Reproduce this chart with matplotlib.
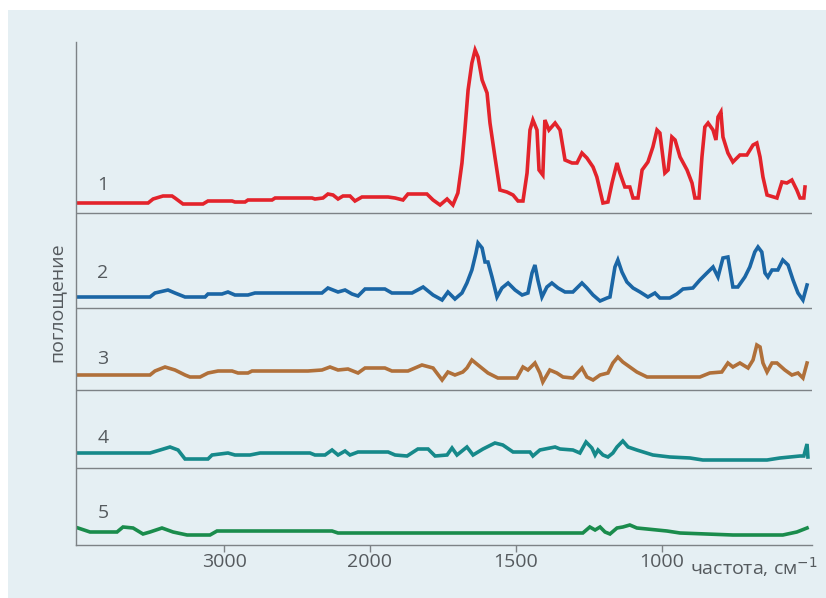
import matplotlib
import numpy as np

matplotlib.use("Agg")
import matplotlib.pyplot as plt
from matplotlib.patches import Rectangle

# wavenumbers (cm-1) and absorbance relative to each trace's own baseline (arbitrary units)
WN_1 = [4000, 3520, 3486, 3418, 3356, 3336, 3281, 3144, 3110, 2945, 2925, 2856, 2836, 2671, 2650,
        2397, 2377, 2322, 2288, 2253, 2219, 2185, 2137, 2103, 2055, 1938, 1914, 1887, 1870, 1853,
        1805, 1784, 1760, 1736, 1716, 1699, 1685, 1675, 1664, 1651, 1640, 1630, 1616, 1599, 1589,
        1572, 1555, 1531, 1510, 1493, 1476, 1462, 1452, 1442, 1428, 1421, 1408, 1401, 1387, 1366,
        1349, 1332, 1308, 1291, 1274, 1257, 1236, 1223, 1202, 1185, 1171, 1154, 1144, 1127, 1110,
        1099, 1082, 1068, 1048, 1031, 1017, 1007, 990, 979, 966, 955, 938, 914, 897, 887,
        873, 863, 853, 842, 825, 815, 808, 798, 791, 774, 757, 733, 709, 688, 675,
        664, 654, 640, 606, 589, 572, 555, 538, 527, 514, 510]
ABS_1 = [1, 1, 5, 8, 8, 6, 0, 0, 3, 3, 2, 2, 4, 4, 6,
         6, 5, 6, 10, 9, 5, 8, 8, 3, 7, 7, 6, 4, 10, 10,
         10, 4, -1, 5, -1, 11, 41, 74, 114, 141, 154, 147, 124, 111, 81,
         47, 14, 12, 9, 3, 3, 31, 74, 84, 74, 34, 29, 84, 74, 81,
         74, 44, 41, 41, 51, 46, 37, 27, 1, 2, 21, 41, 31, 17, 17,
         6, 6, 34, 42, 57, 74, 71, 31, 34, 67, 64, 47, 34, 21, 6,
         6, 47, 77, 81, 74, 64, 87, 92, 67, 51, 42, 49, 49, 59, 61,
         47, 27, 9, 6, 22, 21, 24, 14, 6, 6, 17]

WN_2 = [4000, 3507, 3473, 3384, 3336, 3267, 3130, 3110, 3014, 2973, 2925, 2836, 2788, 2329, 2288,
        2219, 2171, 2123, 2082, 2034, 1949, 1925, 1856, 1818, 1784, 1753, 1733, 1709, 1685, 1668,
        1651, 1637, 1630, 1616, 1606, 1596, 1582, 1565, 1548, 1527, 1503, 1479, 1459, 1445, 1435,
        1425, 1411, 1394, 1377, 1356, 1332, 1305, 1274, 1257, 1236, 1212, 1188, 1178, 1161, 1151,
        1137, 1120, 1099, 1075, 1048, 1024, 1007, 973, 949, 928, 894, 870, 846, 825, 808,
        791, 774, 757, 740, 716, 699, 682, 671, 658, 647, 637, 623, 603, 586, 568,
        551, 534, 517, 503]
ABS_2 = [0, 0, 4, 7, 4, 0, 0, 3, 3, 5, 2, 2, 4, 4, 9,
         5, 7, 3, 1, 8, 8, 4, 4, 10, 2, -3, 5, -2, 4, 14,
         27, 44, 54, 49, 35, 35, 20, 0, 9, 14, 7, 2, 4, 24, 32,
         17, 0, 10, 14, 9, 5, 5, 14, 9, 2, -4, -1, 0, 30, 37,
         25, 15, 9, 5, 0, 4, -1, -1, 3, 8, 9, 17, 24, 30, 20,
         39, 40, 10, 10, 20, 30, 45, 50, 45, 24, 20, 27, 27, 37, 32,
         17, 4, -3, 12]

WN_3 = [4000, 3507, 3473, 3404, 3336, 3267, 3233, 3164, 3110, 3041, 2945, 2904, 2836, 2808, 2425,
        2329, 2274, 2219, 2151, 2082, 2034, 1949, 1925, 1870, 1822, 1784, 1753, 1733, 1709, 1682,
        1668, 1651, 1630, 1596, 1562, 1497, 1476, 1459, 1435, 1418, 1408, 1384, 1360, 1339, 1305,
        1274, 1257, 1236, 1212, 1185, 1168, 1151, 1134, 1110, 1086, 1051, 870, 836, 795, 774,
        757, 733, 705, 688, 675, 664, 654, 640, 623, 606, 579, 555, 534, 517, 503]
ABS_3 = [1, 1, 5, 9, 6, 1, -1, -1, 3, 5, 5, 3, 3, 5, 5,
         6, 9, 6, 7, 3, 8, 8, 5, 5, 11, 8, -4, 4, 1, 4,
         8, 16, 11, 3, -2, -2, 9, 6, 13, 3, -6, 6, 3, -1, -2,
         8, -1, -4, 1, 3, 13, 19, 14, 9, 4, -1, -1, 3, 4, 13,
         9, 13, 8, 16, 31, 29, 13, 4, 13, 13, 6, 1, 3, -2, 13]

WN_4 = [4000, 3507, 3438, 3370, 3315, 3267, 3110, 3082, 2973, 2925, 2822, 2753, 2411, 2377, 2308,
        2260, 2219, 2171, 2137, 2082, 1938, 1914, 1873, 1836, 1801, 1777, 1736, 1719, 1702, 1668,
        1647, 1613, 1572, 1545, 1510, 1452, 1442, 1418, 1366, 1349, 1305, 1281, 1260, 1240, 1229,
        1219, 1202, 1185, 1168, 1154, 1134, 1116, 1086, 1031, 973, 904, 860, 640, 596, 527,
        514, 503, 500]
ABS_4 = [1, 1, 4, 7, 4, -5, -5, -1, 1, -1, -1, 1, 1, -1, -1,
         4, -1, 3, -1, 2, 2, -1, -2, 5, 5, -2, -1, 6, -1, 7,
         -1, 5, 11, 9, 2, 2, -2, 4, 7, 5, 4, 1, 12, 6, -1,
         4, -1, -3, 1, 7, 13, 7, 4, -1, -3, -4, -6, -6, -4, -2,
         -2, 10, -3]

WN_5 = [4000, 3918, 3733, 3692, 3623, 3555, 3507, 3425, 3349, 3253, 3096, 3048, 2260, 2219, 1271,
        1247, 1229, 1212, 1195, 1178, 1154, 1134, 1110, 1086, 1051, 1017, 983, 938, 757, 586,
        538, 503]
ABS_5 = [5, 1, 1, 6, 5, -1, 1, 5, 1, -2, -2, 2, 2, 0, 0,
         6, 3, 6, 1, -1, 5, 6, 8, 5, 4, 3, 2, 0, -2, -2,
         1, 5]

SPECTRA = [(WN_1, ABS_1), (WN_2, ABS_2), (WN_3, ABS_3), (WN_4, ABS_4), (WN_5, ABS_5)]
LABELS = ["1", "2", "3", "4", "5"]
COLORS = ["#e3232b", "#1b66a5", "#b0703a", "#16898a", "#1a8c4c"]
BASELINES = [341, 248, 169, 91, 12]
LABEL_Y = [360, 272, 186, 107, 32]
SEPARATORS = [332, 237, 155, 77]

XTICKS = [3000, 2000, 1500, 1000]
GREY = "#7d8286"
TEXT = "#555a5e"


def fwd(x):
    x = np.asarray(x, dtype=float)
    return np.where(x > 2000, 2000 + (x - 2000) / 2, x)


def inv(u):
    u = np.asarray(u, dtype=float)
    return np.where(u > 2000, 2000 + (u - 2000) * 2, u)


plt.rcParams["font.family"] = ["Open Sans", "DejaVu Sans"]

fig = plt.figure(figsize=(8.26, 5.98), dpi=100)
fig.patch.set_facecolor("white")
fig.add_artist(Rectangle((8 / 826, 0), 1, 1 - 10 / 598, transform=fig.transFigure,
                         facecolor="#e5eff3", edgecolor="none", zorder=-10))

ax = fig.add_axes([76 / 826, 53 / 598, 736 / 826, 503 / 598])
ax.set_facecolor("none")
ax.set_xscale("function", functions=(fwd, inv))

for (wn, a), base, color in zip(SPECTRA, BASELINES, COLORS):
    ax.plot(wn, np.asarray(a) + base, color=color, lw=2.6, solid_joinstyle="miter")

for y in SEPARATORS:
    ax.axhline(y, color=GREY, lw=1.0)

for lab, y in zip(LABELS, LABEL_Y):
    ax.text(3830, y, lab, fontsize=14, color=TEXT, ha="center", va="center")

ax.set_xlim(4014, 486)
ax.set_ylim(0, 503)

for side in ["top", "right"]:
    ax.spines[side].set_visible(False)
for side in ["left", "bottom"]:
    ax.spines[side].set_color(GREY)
    ax.spines[side].set_linewidth(1.0)

ax.set_xticks(XTICKS)
ax.set_xticklabels([str(t) for t in XTICKS])
ax.tick_params(axis="x", length=5, width=1, color=GREY, labelsize=14, labelcolor=TEXT, pad=1)
ax.set_yticks([])

ax.text(-0.027, 0.483, "поглощение", transform=ax.transAxes, rotation=90,
        ha="center", va="center", fontsize=14, color=TEXT)
ax.text((690 - 76) / 736, -0.0596, "частота, см$^{-1}$", transform=ax.transAxes,
        ha="left", va="baseline", fontsize=14, color=TEXT)

fig.savefig("out.png", dpi=100, facecolor=fig.get_facecolor())
